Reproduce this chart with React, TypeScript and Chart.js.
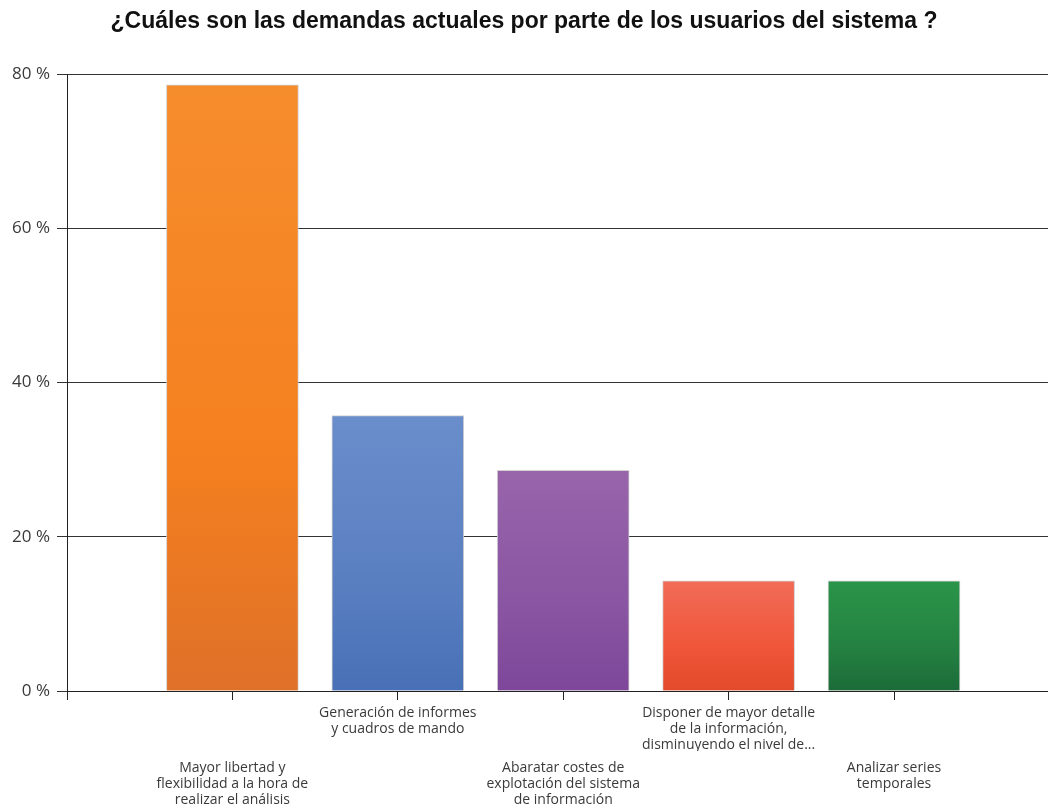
import React, { useEffect, useRef } from "react";
import { Chart, registerables } from "chart.js";

Chart.register(...registerables);

const titleText = "¿Cuáles son las demandas actuales por parte de los usuarios del sistema ?";
const categories: string[][] = [
  ["Mayor libertad y", "flexibilidad a la hora de", "realizar el análisis"],
  ["Generación de informes", "y cuadros de mando"],
  ["Abaratar costes de", "explotación del sistema", "de información"],
  ["Disponer de mayor detalle", "de la información,", "disminuyendo el nivel de..."],
  ["Analizar series", "temporales"],
];
const positions = [1, 2, 3, 4, 5];
const values = [78.6, 35.7, 28.6, 14.3, 14.3];
const upperRow = [2, 4];
const lowerRow = [1, 3, 5];
const yTicks = [0, 20, 40, 60, 80];
const barColors: string[][] = [
  ["#F68D2D", "#F5801F", "#DF7028"],
  ["#6A8DCB", "#5A7FC1", "#4870B6"],
  ["#9865AB", "#8A55A2", "#7E479A"],
  ["#F16C57", "#F0563A", "#E14A2A"],
  ["#2A9549", "#248141", "#1C6B39"],
];

const X_MAX = 5.931;
const TICK_COLOR = "#3a3a3a";

export default function App() {
  const ref = useRef<HTMLCanvasElement | null>(null);

  useEffect(() => {
    document.body.style.margin = "0";
    const canvas = ref.current;
    if (!canvas) return;
    const setTicks = (scale: any) => {
      scale.ticks = [0, ...positions].map((v) => ({ value: v }));
    };
    const labelFont = { family: "Open Sans", size: 14, lineHeight: 16 / 14 };
    const chart = new Chart(canvas, {
      type: "bar",
      data: {
        datasets: [
          {
            data: positions.map((p, i) => ({ x: p, y: values[i] })),
            barThickness: 132,
            borderWidth: 1,
            borderColor: "rgba(205,205,205,0.9)",
            backgroundColor: (ctx: any) => {
              const i = ctx.dataIndex ?? 0;
              const stops = barColors[i] || barColors[0];
              const chartRef = ctx.chart;
              const ys = chartRef.scales && chartRef.scales.y;
              if (!chartRef.chartArea || !ys) return stops[1];
              const top = ys.getPixelForValue(values[i]);
              const bottom = ys.getPixelForValue(0);
              if (!isFinite(top) || !isFinite(bottom)) return stops[1];
              const g = chartRef.ctx.createLinearGradient(0, top, 0, bottom);
              g.addColorStop(0, stops[0]);
              g.addColorStop(0.6, stops[1]);
              g.addColorStop(1, stops[2]);
              return g;
            },
          },
        ],
      },
      options: {
        responsive: false,
        animation: false,
        layout: { padding: { left: 0, right: 0, top: 0, bottom: 0 } },
        plugins: {
          legend: { display: false },
          tooltip: { enabled: false },
          title: {
            display: true,
            text: titleText,
            color: "#111111",
            font: { family: "Liberation Sans", size: 23, weight: "bold" },
            padding: { top: 8, bottom: 38.4 },
          },
        },
        scales: {
          x: {
            type: "linear",
            position: "bottom",
            weight: 0,
            offset: false,
            min: 0,
            max: X_MAX,
            afterBuildTicks: setTicks,
            afterFit: (s: any) => {
              s.height = 60;
            },
            grid: { offset: false, drawOnChartArea: false, drawTicks: true, tickLength: 9, color: "#222222" },
            border: { display: true, color: "#222222", width: 1 },
            ticks: {
              autoSkip: false,
              maxRotation: 0,
              minRotation: 0,
              padding: 5,
              color: TICK_COLOR,
              font: labelFont,
              callback: (v: any) => (upperRow.includes(v) ? categories[v - 1] : ""),
            },
          },
          x2: {
            type: "linear",
            position: "bottom",
            weight: 1,
            offset: false,
            min: 0,
            max: X_MAX,
            afterBuildTicks: setTicks,
            afterFit: (s: any) => {
              s.height = 55;
            },
            grid: { offset: false, display: false, drawTicks: false, drawOnChartArea: false },
            border: { display: false },
            ticks: {
              autoSkip: false,
              maxRotation: 0,
              minRotation: 0,
              padding: 9,
              color: TICK_COLOR,
              font: labelFont,
              callback: (v: any) => (lowerRow.includes(v) ? categories[v - 1] : ""),
            },
          },
          y: {
            min: 0,
            max: 80,
            afterBuildTicks: (s: any) => {
              s.ticks = yTicks.map((v) => ({ value: v }));
            },
            afterFit: (s: any) => {
              s.width = 67;
            },
            grid: { color: "#333333", tickLength: 10, lineWidth: 1 },
            border: { display: true, color: "#222222", width: 1 },
            ticks: {
              padding: 7,
              color: TICK_COLOR,
              font: { family: "Open Sans", size: 17 },
              callback: (v: any) => v + " %",
            },
          },
        },
      } as any,
    });
    return () => chart.destroy();
  }, []);

  return (
    <div style={{ width: 1048, height: 806 }}>
      <canvas ref={ref} width={1048} height={806} style={{ display: "block" }} />
    </div>
  );
}
